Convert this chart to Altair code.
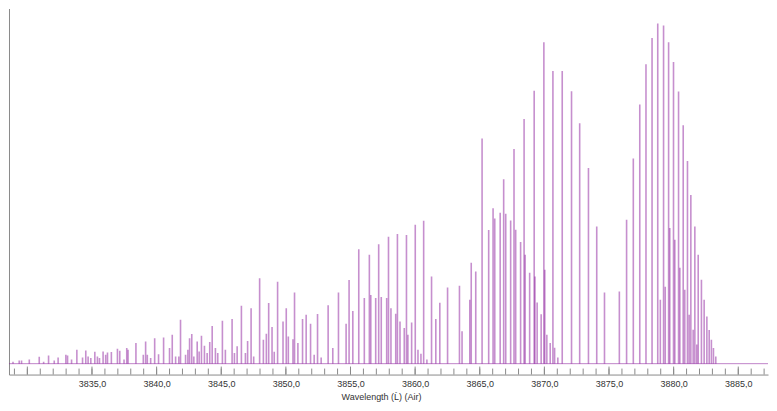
import altair as alt
import pandas as pd

# Peak positions (Angstrom, air) and relative intensities
wavelength = [
    3828.89, 3829.37, 3829.55, 3830.15, 3830.92, 3831.26, 3831.64, 3832.08, 3832.38, 3832.98,
    3833.11, 3833.42, 3833.83, 3834.27, 3834.52, 3834.70, 3834.91, 3835.22, 3835.42, 3835.58,
    3835.86, 3836.06, 3836.20, 3836.50, 3836.97, 3837.15, 3837.48, 3837.69, 3837.79, 3838.40,
    3838.97, 3839.15, 3839.28, 3839.54, 3839.85, 3840.15, 3840.54, 3841.00, 3841.21, 3841.47,
    3841.72, 3841.85, 3842.24, 3842.42, 3842.55, 3842.72, 3842.88, 3843.14, 3843.29, 3843.47,
    3843.70, 3843.91, 3844.11, 3844.30, 3844.55, 3844.73, 3845.09, 3845.32, 3845.84, 3846.02,
    3846.23, 3846.56, 3846.87, 3847.04, 3847.31, 3847.51, 3847.97, 3848.26, 3848.49, 3848.67,
    3848.93, 3849.10, 3849.36, 3849.78, 3850.03, 3850.19, 3850.55, 3850.67, 3850.93, 3851.29,
    3851.57, 3851.91, 3852.19, 3852.45, 3852.73, 3853.27, 3853.63, 3854.07, 3854.66, 3854.89,
    3855.18, 3855.64, 3856.07, 3856.46, 3856.57, 3856.95, 3857.18, 3857.38, 3857.80, 3857.94,
    3858.13, 3858.50, 3858.63, 3858.83, 3859.16, 3859.33, 3859.44, 3859.73, 3860.01, 3860.22,
    3860.45, 3860.66, 3860.91, 3861.27, 3861.60, 3861.91, 3862.51, 3863.43, 3863.63, 3864.23,
    3864.34, 3864.69, 3865.18, 3865.69, 3866.03, 3866.16, 3866.58, 3866.85, 3867.01, 3867.39,
    3867.65, 3867.78, 3868.16, 3868.43, 3868.51, 3868.86, 3869.21, 3869.27, 3869.44, 3869.75,
    3869.96, 3870.03, 3870.19, 3870.45, 3870.66, 3870.79, 3871.04, 3871.38, 3872.10, 3872.73,
    3873.41, 3874.05, 3874.65, 3875.80, 3876.36, 3876.88, 3877.38, 3877.86, 3878.33, 3878.77,
    3879.22, 3879.61, 3879.99, 3880.38, 3880.74, 3881.07, 3881.33, 3881.64, 3881.90, 3882.15,
    3882.36, 3882.57, 3882.75, 3882.92, 3883.08, 3883.26,
    3878.97, 3879.35, 3879.70, 3880.09, 3880.48, 3880.86, 3881.20, 3881.51, 3881.79,
]
intensity = [
    6, 9, 9, 12, 20, 6, 24, 9, 18, 26,
    24, 12, 41, 18, 39, 21, 17, 35, 21, 17,
    36, 26, 33, 34, 44, 38, 12, 46, 41, 61,
    26, 65, 26, 17, 75, 28, 77, 46, 85, 21,
    21, 129, 26, 41, 75, 87, 21, 65, 36, 82,
    53, 31, 64, 111, 46, 31, 126, 41, 131, 31,
    51, 170, 31, 67, 163, 21, 251, 70, 88, 178,
    108, 35, 241, 124, 163, 80, 72, 209, 61, 131,
    144, 117, 26, 146, 18, 172, 46, 209, 117, 246,
    155, 336, 193, 320, 202, 193, 351, 196, 193, 373,
    163, 147, 381, 124, 105, 378, 85, 121, 408, 41,
    29, 420, 12, 256, 131, 179, 224, 229, 95, 188,
    297, 271, 662, 393, 457, 427, 444, 542, 441, 421,
    631, 394, 358, 719, 320, 267, 802, 256, 180, 145,
    945, 276, 85, 61, 860, 47, 18, 860, 801, 707,
    575, 403, 209, 212, 423, 603, 762, 880, 957, 1000,
    994, 945, 887, 800, 701, 596, 496, 403, 320, 247,
    188, 139, 99, 70, 46, 21,
    188, 226, 399, 364, 282, 217, 144, 100, 56,
]

minor_ticks = list(range(3829, 3888))
major_ticks = [3830, 3835, 3840, 3845, 3850, 3855, 3860, 3865, 3870, 3875, 3880, 3885]
label_ticks = [3835, 3840, 3845, 3850, 3855, 3860, 3865, 3870, 3875, 3880, 3885]

W, H = 761, 367
x_domain = [3828.58, 3887.30]
y_domain = [-32, 1044]

LINE = "#8e1f9e"
AXIS = "#8a8a8a"

peaks = pd.DataFrame({"wl": wavelength, "I": intensity})
peaks["base"] = 0

xscale = alt.Scale(domain=x_domain, nice=False, zero=False)
yscale = alt.Scale(domain=y_domain, nice=False, zero=False)

x_axis = alt.Axis(
    values=label_ticks, ticks=False, grid=False,
    domainColor=AXIS, domainWidth=1,
    labelExpr="replace(format(datum.value, '.1f'), '.', ',')",
    labelFont="Liberation Sans", labelFontSize=9, labelColor="#333333",
    labelPadding=5,
    title="Wavelength (Ĺ) (Air)", titleFont="Liberation Sans",
    titleFontSize=9, titleFontWeight="normal", titleColor="#333333",
    titleX=373, titleY=18, titleBaseline="top", titleAlign="center",
)
y_axis = alt.Axis(
    labels=False, ticks=False, grid=False, title=None,
    domainColor=AXIS, domainWidth=1,
)

spikes = alt.Chart(peaks).mark_rule(
    color=LINE, opacity=0.5, strokeWidth=1.6, clip=True
).encode(
    x=alt.X("wl:Q", scale=xscale, axis=x_axis),
    y=alt.Y("base:Q", scale=yscale, axis=y_axis),
    y2="I:Q",
)

baseline = alt.Chart(pd.DataFrame({"base": [0]})).mark_rule(
    color=LINE, opacity=0.55, strokeWidth=1
).encode(y=alt.Y("base:Q", scale=yscale, axis=y_axis))

minor = alt.Chart(pd.DataFrame({"wl": minor_ticks})).mark_rule(
    color=AXIS, strokeWidth=1
).encode(
    x=alt.X("wl:Q", scale=xscale, axis=x_axis),
    y=alt.value(H - 6), y2=alt.value(H),
)

major = alt.Chart(pd.DataFrame({"wl": major_ticks})).mark_rule(
    color=AXIS, strokeWidth=1
).encode(
    x=alt.X("wl:Q", scale=xscale, axis=x_axis),
    y=alt.value(H - 8), y2=alt.value(H),
)

chart = alt.layer(spikes, baseline, minor, major).properties(
    width=W, height=H, padding=0
).configure_view(stroke=None)

chart.save("out.html", embed_options={"renderer": "svg", "actions": False})
